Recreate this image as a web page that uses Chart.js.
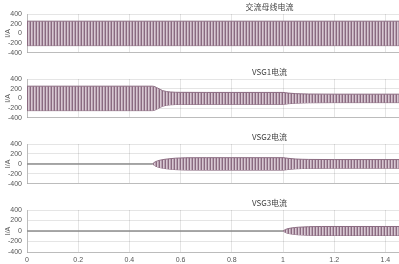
<!DOCTYPE html>
<html>
<head>
<meta charset="utf-8">
<script src="https://cdn.jsdelivr.net/npm/chart.js@4.4.1/dist/chart.umd.min.js"></script>
<style>
html,body{margin:0;padding:0;background:#fff;overflow:hidden;}
#wrap{position:relative;width:399px;height:264px;overflow:hidden;background:#fff;}
canvas{position:absolute;left:0;}
</style>
</head>
<body>
<div id="wrap">
<canvas id="c1" width="560" height="62" style="top:0px"></canvas>
<canvas id="c2" width="560" height="62" style="top:65px"></canvas>
<canvas id="c3" width="560" height="63" style="top:130px"></canvas>
<canvas id="c4" width="560" height="70" style="top:196px"></canvas>
</div>
<script>
// ---- data (envelope amplitude of the current, A) ----
const panelTitles = ["交流母线电流", "VSG1电流", "VSG2电流", "VSG3电流"];
const yTicks = [-400, -200, 0, 200, 400];
const xTicks = [0, 0.2, 0.4, 0.6, 0.8, 1, 1.2, 1.4, 1.6, 1.8, 2];

const time_bus  = [0, 0.5, 1.0, 1.5, 2.0];
const amp_bus   = [252, 252, 252, 252, 252];

const time_vsg1 = [0, 0.49, 0.51, 0.53, 0.56, 0.60, 0.70, 1.00, 1.02, 1.05, 1.10, 1.20, 2.00];
const amp_vsg1  = [252, 252, 215, 160, 132, 125, 123, 123, 110, 98, 90, 87, 87];

const time_vsg2 = [0.49, 0.50, 0.52, 0.55, 0.58, 0.62, 0.70, 1.00, 1.02, 1.05, 1.10, 1.20, 2.00];
const amp_vsg2  = [0, 40, 75, 100, 115, 123, 125, 125, 112, 98, 90, 87, 87];

const time_vsg3 = [1.00, 1.01, 1.03, 1.06, 1.10, 1.15, 2.00];
const amp_vsg3  = [0, 30, 55, 72, 82, 86, 86];

const zero_vsg2 = [0, 0.49];
const zero_vsg3 = [0, 1.00];

// ---- styling ----
function makePattern(){
  const p = document.createElement('canvas');
  p.width = 3; p.height = 2;
  const g = p.getContext('2d');
  const cols = ['rgb(138,106,128)','rgb(216,200,210)','rgb(184,162,178)'];
  cols.forEach((c,i)=>{ g.fillStyle=c; g.fillRect(i,0,1,2); });
  return g.createPattern(p,'repeat');
}
const bandFill = makePattern();
const edgeColor = 'rgb(140,108,130)';
const gridColor = 'rgba(0,0,0,0.10)';
const tickFont = {family:"'Liberation Sans', Arial, sans-serif", size:7};
const titleFont = {family:"'Noto Sans CJK SC', 'Liberation Sans', sans-serif", size:8, weight:'normal', lineHeight:1.2};

function bandDatasets(t, a){
  return [
    {data: t.map((x,i)=>({x:x, y:a[i]})), borderColor: edgeColor, borderWidth:1, backgroundColor: bandFill, fill:'+1', pointRadius:0, cubicInterpolationMode:'monotone'},
    {data: t.map((x,i)=>({x:x, y:-a[i]})), borderColor: edgeColor, borderWidth:1, fill:false, pointRadius:0, cubicInterpolationMode:'monotone'}
  ];
}
function zeroDataset(z){
  return {data: z.map(x=>({x:x, y:0})), borderColor:'rgb(140,140,140)', borderWidth:1.5, fill:false, pointRadius:0};
}

function makeChart(id, title, datasets, showX){
  new Chart(document.getElementById(id), {
    type:'line',
    data:{datasets:datasets},
    options:{
      responsive:false, animation:false, devicePixelRatio:1,
      layout:{padding:{left:0, right:21, top:0, bottom: showX ? 0 : 5}},
      plugins:{
        legend:{display:false}, tooltip:{enabled:false},
        title:{display:true, text:title, color:'#444', font:titleFont, padding:{top:2, bottom:2.4}}
      },
      scales:{
        x:{type:'linear', min:0, max:2,
           afterBuildTicks:(s)=>{ s.ticks = xTicks.map(v=>({value:v})); },
           afterFit:(s)=>{ s.height = showX ? 14 : 0; },
           grid:{color:gridColor, drawTicks:false},
           border:{color:'rgba(0,0,0,0.18)'},
           ticks:{display:showX, autoSkip:false, padding:4, color:'#555', font:tickFont, maxRotation:0,
                  callback:(v)=>String(v)}},
        y:{type:'linear', min:-400, max:400,
           afterBuildTicks:(s)=>{ s.ticks = yTicks.map(v=>({value:v})); },
           afterFit:(s)=>{ s.width = 27; },
           grid:{color:gridColor, drawTicks:false},
           border:{color:'rgba(0,0,0,0.18)'},
           title:{display:true, text:'I/A', color:'#555', font:tickFont, padding:{top:4, bottom:0}},
           ticks:{autoSkip:false, padding:5, color:'#555', font:tickFont, callback:(v)=>String(v)}}
      }
    }
  });
}

makeChart('c1', panelTitles[0], bandDatasets(time_bus, amp_bus), false);
makeChart('c2', panelTitles[1], bandDatasets(time_vsg1, amp_vsg1), false);
makeChart('c3', panelTitles[2], [zeroDataset(zero_vsg2)].concat(bandDatasets(time_vsg2, amp_vsg2)), false);
makeChart('c4', panelTitles[3], [zeroDataset(zero_vsg3)].concat(bandDatasets(time_vsg3, amp_vsg3)), true);
</script>
</body>
</html>
